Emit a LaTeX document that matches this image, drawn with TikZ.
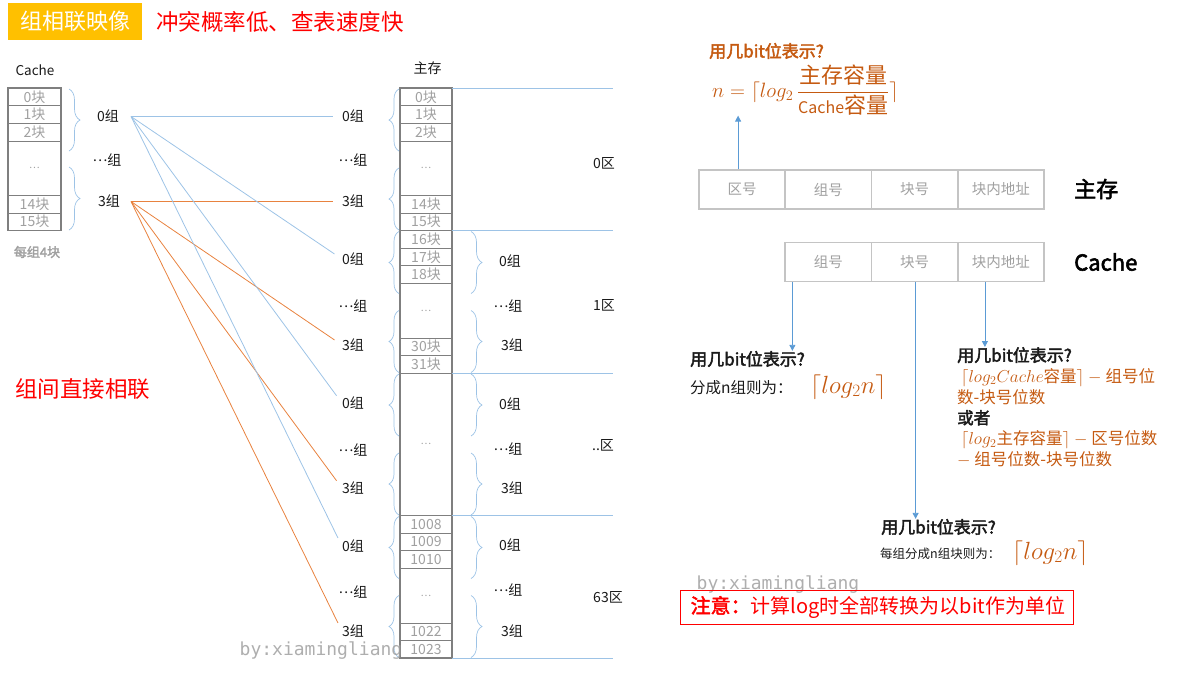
\documentclass[tikz,border=0pt]{standalone}
\usepackage{amsmath}
\usepackage{fontspec}
\setmainfont{Noto Sans CJK SC}[AutoFakeBold=2.5]
\newfontfamily\wmfont{DejaVu Sans Mono}
\usetikzlibrary{decorations.pathreplacing,arrows.meta}
\definecolor{gold}{HTML}{FFC000}
\definecolor{redt}{HTML}{FF0000}
\definecolor{lblue}{HTML}{9DC3E6}
\definecolor{lorange}{HTML}{E8823F}
\definecolor{ora}{HTML}{C55A11}
\definecolor{arrb}{HTML}{5B9BD5}
\definecolor{cellg}{HTML}{7F7F7F}
\definecolor{celltx}{HTML}{A0A0A0}
\definecolor{addrg}{HTML}{C4C4C4}
\definecolor{txt}{HTML}{1A1A1A}
\newcommand\mdots{\raisebox{0.28em}{…}}
\begin{document}
\begin{tikzpicture}[x=1pt,y=-1pt,
  cellc/.style={draw=cellg, line width=0.5pt, minimum width=53pt, minimum height=17.6pt, inner sep=0pt, text=celltx, font=\fontsize{14}{14}\selectfont},
  cellm/.style={cellc, minimum width=52pt},
  outerbox/.style={draw=cellg, line width=1.3pt},
  bracestyle/.style={draw=lblue, line width=0.7pt, decorate, decoration={brace, amplitude=#1}},
  grp/.style={text=txt, font=\fontsize{14}{14}\selectfont, inner sep=0pt},
  bline/.style={draw=lblue, line width=0.8pt, shorten >=9pt},
  oline/.style={draw=lorange, line width=0.8pt, shorten >=9pt},
  zline/.style={draw=lblue, line width=0.6pt},
  addr/.style={draw=addrg, line width=1.8pt, minimum width=86.25pt, minimum height=39pt, inner sep=0pt, text=celltx, font=\fontsize{14.5}{14.5}\selectfont},
  arr/.style={draw=arrb, line width=0.8pt, -{Triangle[width=6pt,length=6pt]}},
  qbold/.style={anchor=west, inner sep=0pt, text=txt, font=\fontsize{17}{17}\selectfont\bfseries},
  wm/.style={text=celltx, font=\wmfont\fontsize{18}{18}\selectfont, inner sep=0pt, opacity=0.85}
]
\useasboundingbox (0,0) rectangle (1184,675);

% title
\node[fill=gold, text=white, minimum width=134pt, minimum height=37pt, inner sep=0pt, font=\fontsize{22}{22}\selectfont] (title) at (75,21.5) {组相联映像};
\node[anchor=west, inner sep=0pt, text=redt, font=\fontsize{22.5}{22.5}\selectfont] (subtitle) at (156,21.5) {冲突概率低、查表速度快};
\node[anchor=west, inner sep=0pt, text=redt, font=\fontsize{22.5}{22.5}\selectfont] (direct) at (15,389) {组间直接相联};

% cache column
\node[inner sep=0pt, text=txt, font=\fontsize{13.5}{14}\selectfont] (cachelbl) at (35,70) {Cache};
\node[cellc] (cb0) at (34.5,96.8) {0块};
\node[cellc] (cb1) at (34.5,114.4) {1块};
\node[cellc] (cb2) at (34.5,132) {2块};
\node[cellc, minimum height=54.5pt, font=\fontsize{10}{10}\selectfont] (cbd) at (34.5,168.05) {…};
\node[cellc] (cb14) at (34.5,204.1) {14块};
\node[cellc] (cb15) at (34.5,221.7) {15块};
\draw[outerbox] (8,88) rectangle (61,230.5);
\node[inner sep=0pt, text=celltx, font=\fontsize{13}{13}\selectfont\bfseries] (per4) at (37,252) {每组4块};
\draw[bracestyle=11] (69,89) -- (69,151);
\draw[bracestyle=11] (69,167) -- (69,230);
\node[grp] (c0) at (108,116.5) {0组};
\node[grp] (cd) at (107,160) {\mdots 组};
\node[grp] (c3) at (109,201.5) {3组};
\coordinate (c0p) at (131,116.5);
\coordinate (c3p) at (131,201.5);

% main memory column
\node[inner sep=0pt, text=txt, font=\fontsize{14}{14}\selectfont] (memlbl) at (427.5,68) {主存};
\foreach \T/\a/\b/\c/\d/\e/\n in {88/0块/1块/2块/14块/15块/0, 230.5/16块/17块/18块/30块/31块/1, 515.5/1008/1009/1010/1022/1023/3} {
  \node[cellm] (m\n a) at (426,\T+8.8) {\a};
  \node[cellm] (m\n b) at (426,\T+26.4) {\b};
  \node[cellm] (m\n c) at (426,\T+44) {\c};
  \node[cellm, minimum height=54.5pt, font=\fontsize{10}{10}\selectfont] (m\n d) at (426,\T+80.05) {…};
  \node[cellm] (m\n e) at (426,\T+116.1) {\d};
  \node[cellm] (m\n f) at (426,\T+133.7) {\e};
}
\node[cellm, minimum height=142.5pt, font=\fontsize{10}{10}\selectfont] (m2) at (426,444.25) {…};
\draw[outerbox] (400,88) rectangle (452,658);

% zone lines
\foreach \T in {88.5,230.5,373.5,515.5,658.5} \draw[zline] (452,\T) -- (613,\T);
\node[grp] (z0) at (604,163) {0区};
\node[grp] (z1) at (604,305) {1区};
\node[grp] (z2) at (603,445) {..区};
\node[grp] (z3) at (608,597) {63区};

% braces main
\foreach \T in {88,230.5,373,515.5} {
  \draw[bracestyle=10] (399,\T+63) -- (399,\T+1);
  \draw[bracestyle=10] (399,\T+142) -- (399,\T+80);
}
\foreach \T in {230.5,373,515.5} {
  \draw[bracestyle=11] (471,\T+1) -- (471,\T+63);
  \draw[bracestyle=11] (471,\T+80) -- (471,\T+142);
}

% left group labels
\foreach \n/\ya/\yd/\yc in {0/116.5/160/201.5, 1/259/306/345, 2/403/450/488, 3/546/592/631} {
  \node[grp] (L\n a) at (353,\ya) {0组};
  \node[grp] (L\n d) at (353,\yd) {\mdots 组};
  \node[grp] (L\n c) at (353,\yc) {3组};
}
% right group labels
\foreach \n/\ya/\yd/\yc in {1/261/306/345, 2/404/449/488, 3/545/590/631} {
  \node[grp] (R\n a) at (510,\ya) {0组};
  \node[grp] (R\n d) at (508,\yd) {\mdots 组};
  \node[grp] (R\n c) at (512,\yc) {3组};
}

% connectors
\foreach \n in {0,1,2,3} {
  \draw[bline] (c0p) -- (L\n a.west);
  \draw[oline] (c3p) -- (L\n c.west);
}

% watermarks
\node[wm] (wm1) at (321,651) {by:xiamingliang};
\node[wm] (wm2) at (778,585) {by:xiamingliang};

% right side: formula
\node[anchor=west, inner sep=0pt, text=ora, font=\fontsize{17}{17}\selectfont\bfseries] (qtop) at (709,51) {用几bit位表示?};
\node[anchor=west, inner sep=0pt, text=ora, font=\fontsize{22}{26}\selectfont] (fml) at (712,90) {$n=\lceil log_2\,\displaystyle\frac{\text{主存容量}}{\text{\fontsize{16}{16}\selectfont Cache}\text{容量}}\rceil$};

% address boxes
\node[addr] (ma0) at (742.1,189.5) {区号};
\node[addr] (ma1) at (828.4,189.5) {组号};
\node[addr] (ma2) at (914.6,189.5) {块号};
\node[addr] (ma3) at (1000.9,189.5) {块内地址};
\node[anchor=west, inner sep=0pt, text=black, font=\fontsize{22}{22}\selectfont\bfseries] (mainlbl) at (1074,189) {主存};
\node[addr] (ca1) at (828.4,262) {组号};
\node[addr] (ca2) at (914.6,262) {块号};
\node[addr] (ca3) at (1000.9,262) {块内地址};
\node[anchor=west, inner sep=0pt, text=black, font=\fontsize{22}{22}\selectfont\bfseries] (cachelbl2) at (1074,262) {Cache};

% left block
\node[qbold] (q1) at (690,359) {用几bit位表示?};
\node[anchor=west, inner sep=0pt, text=txt, font=\fontsize{15.5}{16}\selectfont] (q1b) at (690,388) {分成n组则为：};
\node[anchor=west, inner sep=0pt, text=ora, font=\fontsize{24}{24}\selectfont] (q1f) at (810,387) {$\lceil log_2n\rceil$};

% right block
\node[anchor=north west, align=left, inner sep=0pt, text=txt, font=\fontsize{16.5}{20.8}\selectfont] (q2) at (957,347) {\textbf{\fontsize{17}{20.8}\selectfont 用几bit位表示?}\\
\textcolor{ora}{\ $\lceil log_2Cache\text{容量}\rceil-{}$组号位}\\
\textcolor{ora}{数-块号位数}\\
\textbf{或者}\\
\textcolor{ora}{\ $\lceil log_2\text{主存容量}\rceil-{}$区号位数}\\
\textcolor{ora}{$-$\ 组号位数-块号位数}};

% bottom block
\node[qbold] (q3) at (881,527) {用几bit位表示?};
\node[anchor=west, inner sep=0pt, text=txt, font=\fontsize{12.5}{13}\selectfont] (q3b) at (880,554) {每组分成n组块则为：};
\node[anchor=west, inner sep=0pt, text=ora, font=\fontsize{23}{23}\selectfont] (q3f) at (1012,553) {$\lceil log_2n\rceil$};

% arrows
\draw[arr] ([xshift=-4pt]ma0.north) -- ([xshift=-4pt]ma0.north |- fml.south);
\draw[arr] ([xshift=8pt]ca1.south west) -- ([xshift=8pt]ca1.south west |- q1.north);
\draw[arr] ([xshift=1pt]ca2.south) -- ([xshift=1pt]ca2.south |- q3.north);
\draw[arr] ([xshift=-16pt]ca3.south) -- ([xshift=-16pt]ca3.south |- q2.north);

% note
\node[draw=redt, line width=1.2pt, anchor=north west, text width=373pt, inner xsep=10pt, inner ysep=0pt, minimum height=34pt, align=left, text=redt, font=\fontsize{20}{22}\selectfont] (note) at (680,589.5) {\textbf{注意：}计算log时全部转换为以bit作为单位};
\end{tikzpicture}
\end{document}
